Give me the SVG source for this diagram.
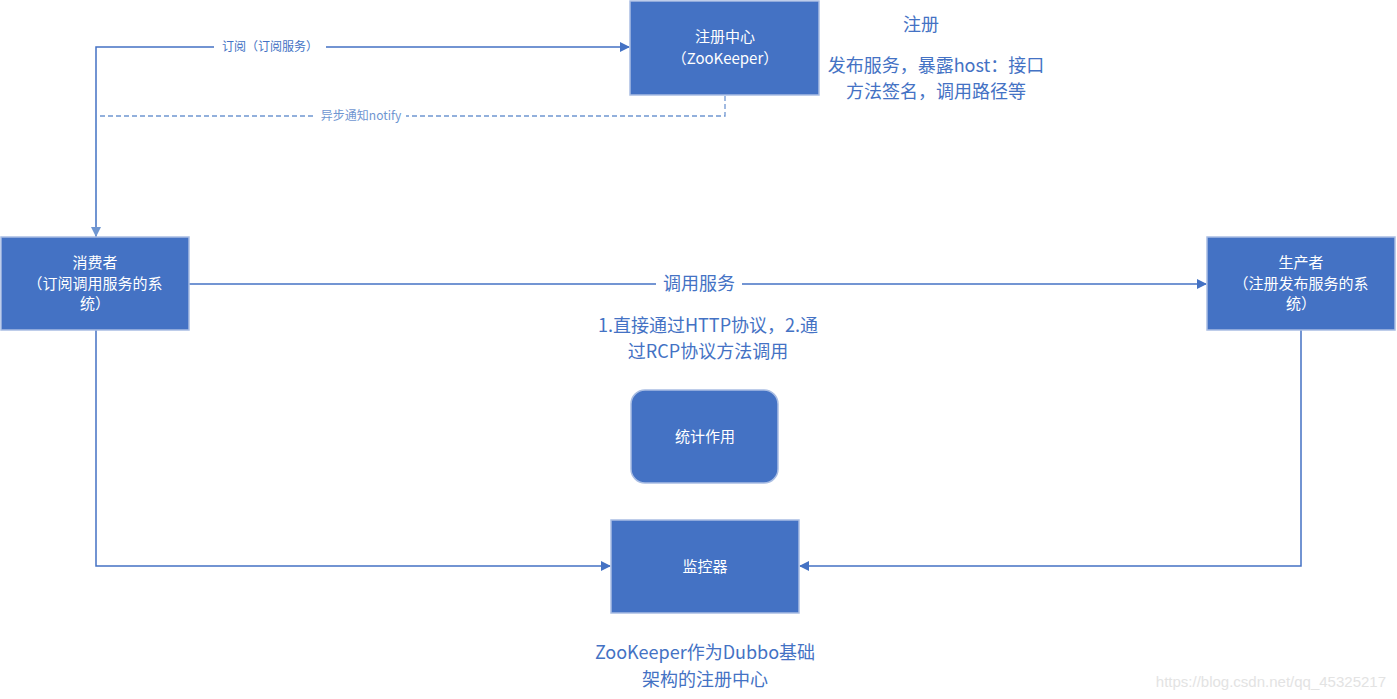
<svg xmlns="http://www.w3.org/2000/svg" width="1397" height="699" viewBox="0 0 1397 699">
<style>
.n{fill:#4472C4;stroke:#A9BDE3;stroke-width:1.5}
.nt{font-family:"Noto Sans CJK SC","Liberation Sans",sans-serif;font-size:15px;fill:#fff;text-anchor:middle}
.c{fill:none;stroke:#4472C4;stroke-width:1.5}
.d{fill:none;stroke:#6F96D1;stroke-width:1.3;stroke-dasharray:5,3}
.l{font-family:"Noto Sans CJK SC","Liberation Sans",sans-serif;fill:#4472C4;text-anchor:middle}
</style>
<defs>
<marker id="a" markerWidth="10" markerHeight="10" refX="9" refY="5" orient="auto" markerUnits="userSpaceOnUse"><path d="M0,0L10,5L0,10z" fill="#4472C4"/></marker>
<marker id="b" markerWidth="10" markerHeight="12" refX="9" refY="5" orient="auto" markerUnits="userSpaceOnUse"><path d="M0,0L10,5L0,10z" fill="#6F96D1"/></marker>
</defs>
<rect width="1397" height="699" fill="#fff"/>
<g id="connectors">
<path class="c" d="M96,237V47H629" marker-end="url(#a)"/>
<rect x="214" y="38" width="112" height="18" fill="#fff"/>
<text class="l" x="270" y="51" font-size="12">订阅（订阅服务）</text>
<path class="d" d="M725,96V116H96V236" marker-end="url(#b)"/>
<rect x="316" y="108" width="90" height="16" fill="#fff"/>
<text class="l" x="361" y="120" font-size="12" fill="#6F96D1" style="fill:#6F96D1">异步通知notify</text>
<path class="c" d="M189,284H1206" marker-end="url(#a)"/>
<rect x="656" y="272" width="86" height="24" fill="#fff"/>
<text class="l" x="699" y="290" font-size="18">调用服务</text>
<path class="c" d="M96,330V566H610" marker-end="url(#a)"/>
<path class="c" d="M1301,330V566H800" marker-end="url(#a)"/>
</g>
<g id="registry"><rect class="n" x="630" y="1" width="189" height="94"/>
<text class="nt" x="725" y="42">注册中心</text><text class="nt" x="725" y="64">（ZooKeeper）</text></g>
<g id="consumer"><rect class="n" x="1" y="237" width="188" height="93"/>
<text class="nt" x="95" y="268">消费者</text><text class="nt" x="95" y="289">（订阅调用服务的系</text><text class="nt" x="95" y="309">统）</text></g>
<g id="producer"><rect class="n" x="1207" y="237" width="188" height="93"/>
<text class="nt" x="1301" y="268">生产者</text><text class="nt" x="1301" y="289">（注册发布服务的系</text><text class="nt" x="1301" y="309">统）</text></g>
<g id="stats"><rect class="n" x="631" y="390" width="147" height="93" rx="14"/>
<text class="nt" x="705" y="442">统计作用</text></g>
<g id="monitor"><rect class="n" x="611" y="520" width="188" height="93"/>
<text class="nt" x="705" y="572">监控器</text></g>
<g id="labels">
<text class="l" x="921" y="31" font-size="18">注册</text>
<text class="l" x="936" y="72" font-size="18">发布服务，暴露host：接口</text>
<text class="l" x="936" y="98" font-size="18">方法签名，调用路径等</text>
<text class="l" x="708" y="332" font-size="18">1.直接通过HTTP协议，2.通</text>
<text class="l" x="708" y="358" font-size="18">过RCP协议方法调用</text>
<text class="l" x="705" y="659" font-size="18">ZooKeeper作为Dubbo基础</text>
<text class="l" x="705" y="686" font-size="18">架构的注册中心</text>
<text x="1386" y="687" font-family="Liberation Sans,sans-serif" font-size="15" fill="#E3E3E3" text-anchor="end">https://blog.csdn.net/qq_45325217</text>
</g>
</svg>
